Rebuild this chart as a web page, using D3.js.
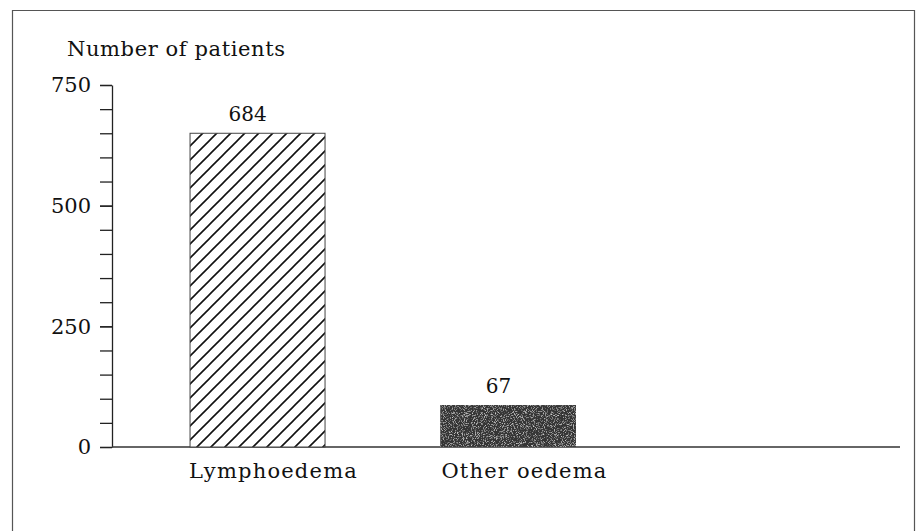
<!DOCTYPE html>
<html>
<head>
<meta charset="utf-8">
<script src="https://cdn.jsdelivr.net/npm/d3@7"></script>
<style>
  body { margin: 0; background: #fff; }
  text { font-family: "DejaVu Serif", serif; fill: #111; }
</style>
</head>
<body>
<div class="chartHolder"></div>
<script>
// values
const categories = ['Lymphoedema', 'Other oedema']
const barValues = [650, 87]          // drawn bar heights
const valueLabels = ['684', '67']    // printed numbers above bars
const yTicks = [0, 250, 500, 750]
const yMinorTicks = d3.range(0, 751, 50)

const width = 921
const height = 531
const margin = { top: 85, left: 112, bottom: 84 }
const plotBottom = height - margin.bottom   // 447

const svg = d3.select('.chartHolder').append('svg')
  .attr('width', width)
  .attr('height', height)

const defs = svg.append('defs')

// diagonal hatch for first bar
const hatch = defs.append('pattern')
  .attr('id', 'hatch')
  .attr('patternUnits', 'userSpaceOnUse')
  .attr('width', 14)
  .attr('height', 14)
hatch.append('rect').attr('width', 14).attr('height', 14).attr('fill', '#fff')
hatch.append('path')
  .attr('d', 'M-2,16 L16,-2 M-9,9 L9,-9 M5,23 L23,5')
  .attr('stroke', '#111')
  .attr('stroke-width', 1.6)

// speckled dark fill for second bar
const grain = defs.append('filter').attr('id', 'grain')
  .attr('x', 0).attr('y', 0).attr('width', 1).attr('height', 1)
grain.append('feTurbulence')
  .attr('type', 'fractalNoise')
  .attr('baseFrequency', 1.1)
  .attr('numOctaves', 2)
  .attr('seed', 3)
  .attr('result', 'noise')
grain.append('feColorMatrix')
  .attr('in', 'noise')
  .attr('type', 'matrix')
  .attr('values', '0 0 0 0 0.62  0 0 0 0 0.62  0 0 0 0 0.62  3 0 0 0 -1.55')
  .attr('result', 'specks')
grain.append('feComposite')
  .attr('in', 'specks').attr('in2', 'SourceGraphic').attr('operator', 'atop')
  .attr('result', 'spotted')
grain.append('feMerge')
  .call(m => {
    m.append('feMergeNode').attr('in', 'SourceGraphic')
    m.append('feMergeNode').attr('in', 'spotted')
  })

// outer frame (bottom edge lies below the window)
svg.append('path')
  .attr('d', `M12.5,${height + 5} V10.5 H914.5 V${height + 5}`)
  .attr('fill', 'none')
  .attr('stroke', '#555')
  .attr('stroke-width', 1.2)

const yScale = d3.scaleLinear()
  .domain([0, 750])
  .range([plotBottom, margin.top])

const xScale = d3.scaleBand()
  .domain(categories)
  .range([margin.left, 654])
  .paddingInner(0.462)
  .paddingOuter(0.311)

// minor ticks
svg.append('g')
  .attr('transform', `translate(${margin.left},0)`)
  .call(d3.axisLeft(yScale).tickValues(yMinorTicks).tickSize(12).tickFormat(''))
  .call(g => g.select('.domain').remove())
  .call(g => g.selectAll('line').attr('stroke', '#222').attr('stroke-width', 1.3))

// y axis with labels
svg.append('g')
  .attr('transform', `translate(${margin.left},0)`)
  .call(d3.axisLeft(yScale).tickValues(yTicks).tickSize(12).tickSizeOuter(0).tickPadding(9))
  .call(g => g.select('.domain').attr('stroke', '#222').attr('stroke-width', 1.3))
  .call(g => g.selectAll('line').attr('stroke', '#222').attr('stroke-width', 1.3))
  .call(g => g.selectAll('text')
    .style('font-family', '"DejaVu Serif", serif')
    .style('font-size', '21px')
    .attr('fill', '#111'))

// x baseline
svg.append('line')
  .attr('x1', margin.left).attr('x2', 900)
  .attr('y1', plotBottom).attr('y2', plotBottom)
  .attr('stroke', '#333')
  .attr('stroke-width', 1.4)

svg.append('text')
  .attr('x', 67)
  .attr('y', 56)
  .style('font-size', '21px')
  .style('letter-spacing', '0.6px')
  .text('Number of patients')

const fills = ['url(#hatch)', '#363636']

svg.selectAll('rect.bar')
  .data(barValues)
  .enter()
  .append('rect')
  .attr('class', 'bar')
  .attr('x', (d, i) => xScale(categories[i]))
  .attr('y', d => yScale(d))
  .attr('width', xScale.bandwidth())
  .attr('height', d => plotBottom - yScale(d))
  .attr('fill', (d, i) => fills[i])
  .attr('filter', (d, i) => i === 1 ? 'url(#grain)' : null)
  .attr('stroke', '#444')
  .attr('stroke-width', 1)

svg.selectAll('text.value')
  .data(barValues)
  .enter()
  .append('text')
  .attr('class', 'value')
  .attr('x', (d, i) => xScale(categories[i]) + xScale.bandwidth() / 2 - 10)
  .attr('y', d => yScale(d) - 12)
  .attr('text-anchor', 'middle')
  .style('font-size', '20px')
  .text((d, i) => valueLabels[i])

svg.selectAll('text.cat')
  .data(categories)
  .enter()
  .append('text')
  .attr('class', 'cat')
  .attr('x', d => xScale(d) + xScale.bandwidth() / 2 + 16)
  .attr('y', 478)
  .attr('text-anchor', 'middle')
  .style('font-size', '21px')
  .style('letter-spacing', '1.2px')
  .text(d => d)
</script>
</body>
</html>
